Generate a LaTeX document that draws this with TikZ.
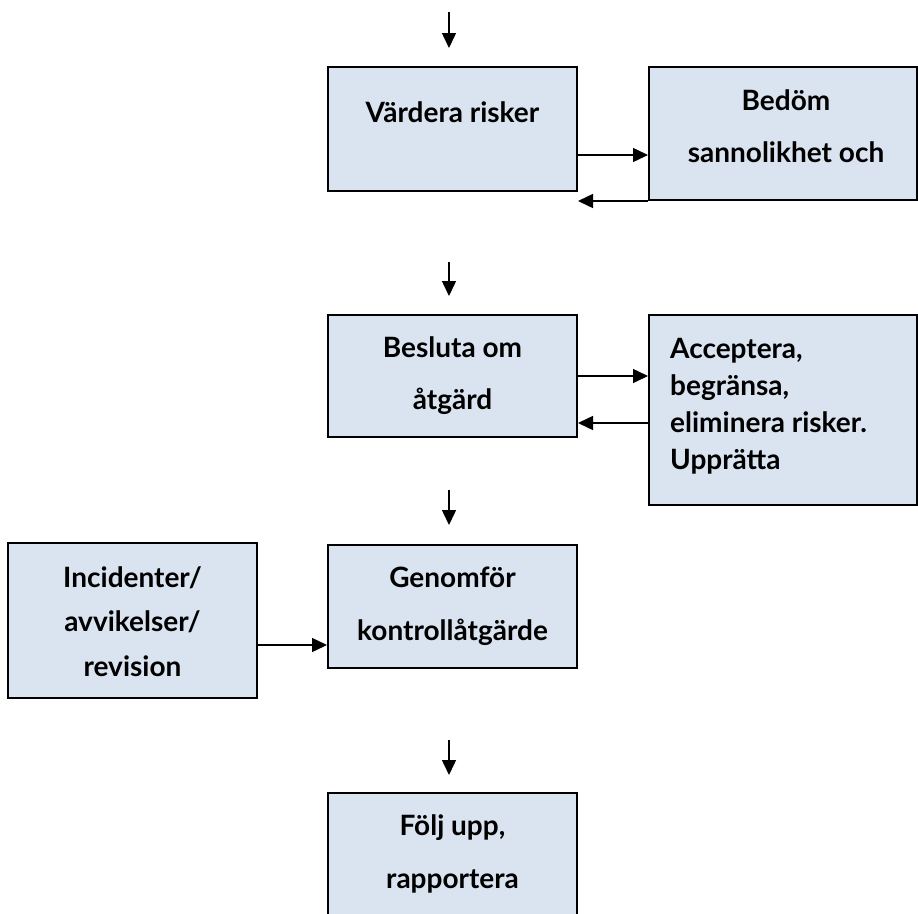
\documentclass[tikz,border=0pt]{standalone}
\usepackage{fontspec}
\setmainfont{Lato}
\usetikzlibrary{arrows.meta}
\definecolor{boxfill}{HTML}{DAE3F0}
\begin{document}
\begin{tikzpicture}[x=1pt,y=-1pt,
  box/.style={draw=black, line width=2pt, fill=boxfill, rectangle, inner sep=0pt},
  lbl/.style={font=\fontsize{28}{#1}\selectfont\bfseries, align=center, inner sep=0pt, anchor=base},
  lbll/.style={font=\fontsize{28}{#1}\selectfont\bfseries, align=left, inner sep=0pt, anchor=base west},
  arr/.style={line width=1.5pt, -{Triangle[length=15pt,width=14pt]}}]
\clip (0,0) rectangle (918,913);
% boxes
\node[box, minimum width=249pt, minimum height=124pt] (b1) at (452.5,129) {};
\node[box, minimum width=268pt, minimum height=133pt] (b2) at (783,133.5) {};
\node[box, minimum width=249pt, minimum height=122pt] (b3) at (452.5,376) {};
\node[box, minimum width=268pt, minimum height=190pt] (b4) at (783,410) {};
\node[box, minimum width=249pt, minimum height=123pt] (b5) at (452.5,606.5) {};
\node[box, minimum width=249pt, minimum height=155pt] (b6) at (132.5,620.5) {};
\node[box, minimum width=249pt, minimum height=137pt] (b7) at (452.5,861.5) {};
% texts (base anchor = baseline of the last line)
\node[lbl=52pt] (t1) at (452.5,122) {Värdera risker};
\node[lbl=52pt] (t2) at (786,162) {Bedöm\\sannolikhet och};
\node[lbl=52pt] (t3) at (452.5,409) {Besluta om\\åtgärd};
\node[lbll=37pt] (t4) at (670,469) {Acceptera,\\begränsa,\\eliminera risker.\\Upprätta};
\node[lbl=53pt] (t5) at (452.5,640) {Genomför\\kontrollåtgärde};
\node[lbl=44.5pt] (t6) at (132.5,676) {Incidenter/\\avvikelser/\\revision};
\node[lbl=53pt] (t7) at (452.5,888) {Följ upp,\\rapportera};
% free vertical arrows
\coordinate (v1s) at (449,12);  \coordinate (v1e) at (449,48);
\coordinate (v2s) at (449,262); \coordinate (v2e) at (449,296);
\coordinate (v3s) at (449,490); \coordinate (v3e) at (449,525);
\coordinate (v4s) at (449,740); \coordinate (v4e) at (449,775);
\draw[arr] (v1s) -- (v1e);
\draw[arr] (v2s) -- (v2e);
\draw[arr] (v3s) -- (v3e);
\draw[arr] (v4s) -- (v4e);
% connectors
\draw[arr] ([yshift=-26pt]b1.east) -- ([yshift=-26pt]b1.east -| b2.west);
\draw[arr] (b2.south west) -- (b2.south west -| b1.east);
\draw[arr] (b3.east) -- (b3.east -| b4.west);
\draw[arr] ([yshift=-47pt]b3.east -| b4.west) -- ([yshift=-47pt]b3.east);
\draw[arr] ([yshift=-24.5pt]b6.east) -- ([yshift=-24.5pt]b6.east -| b5.west);
\end{tikzpicture}
\end{document}
